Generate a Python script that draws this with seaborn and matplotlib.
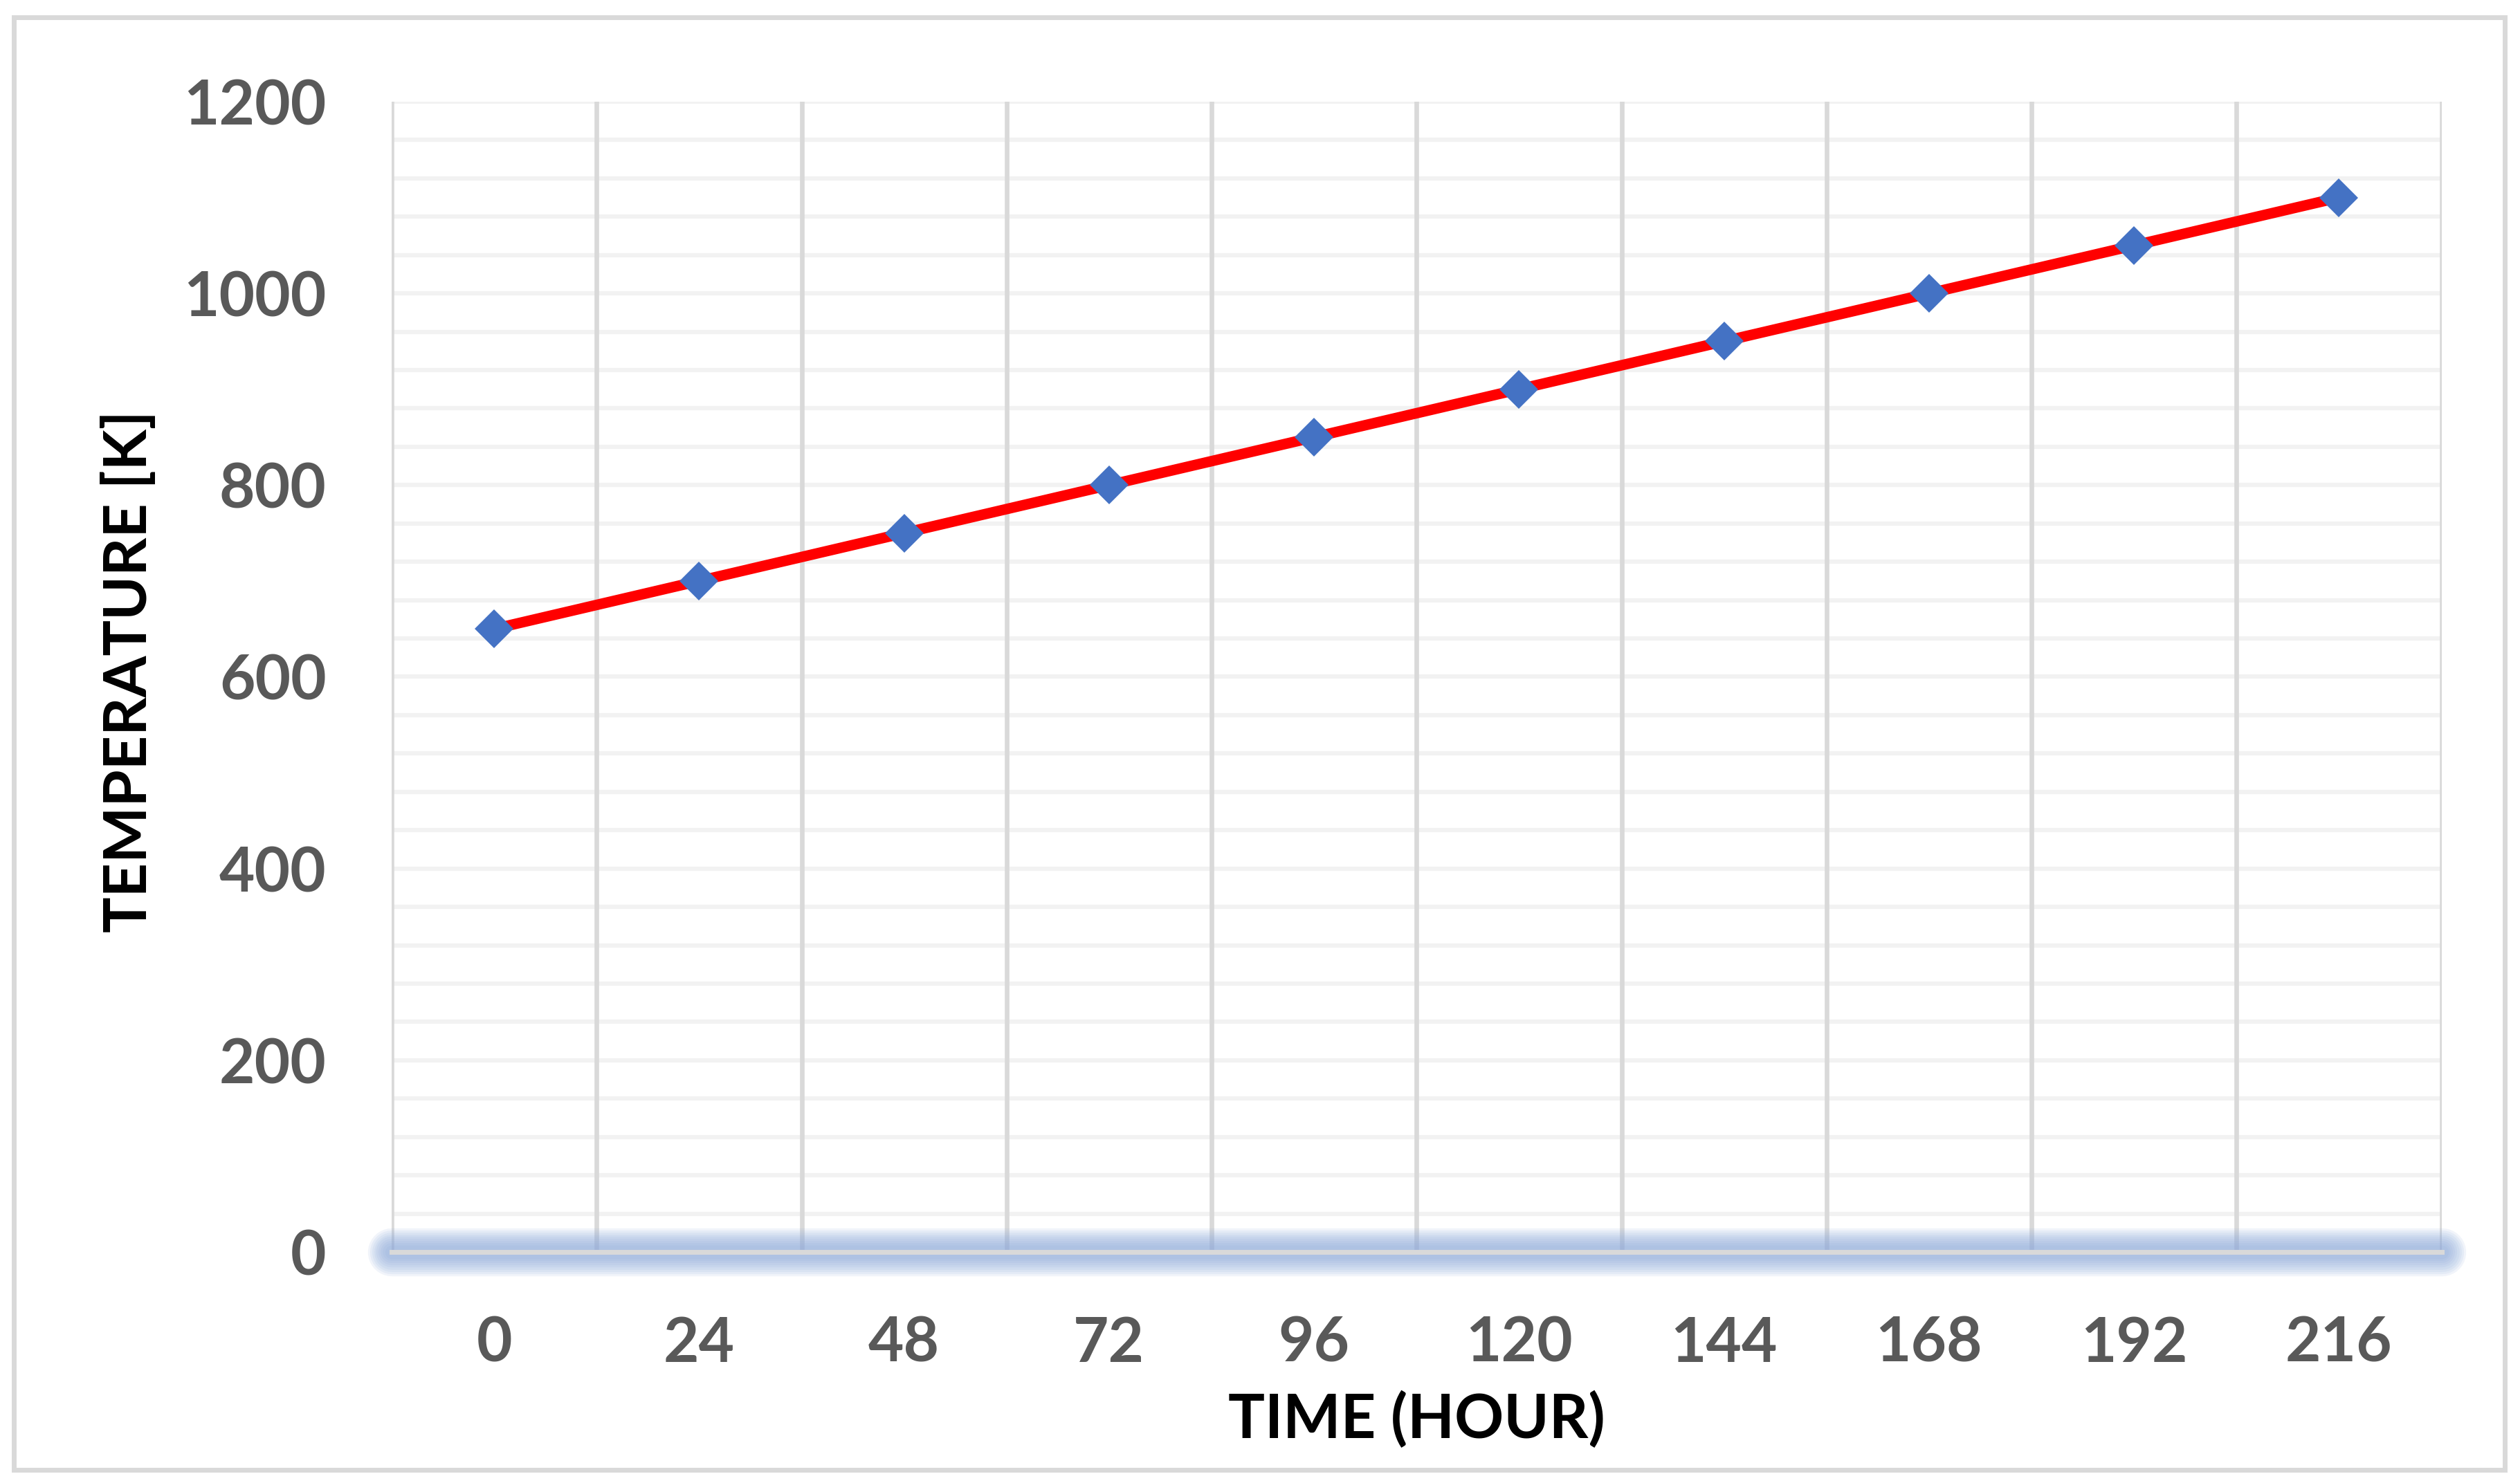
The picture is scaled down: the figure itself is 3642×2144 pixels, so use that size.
import numpy as np
import pandas as pd
import matplotlib
matplotlib.use("Agg")
import matplotlib.pyplot as plt
from matplotlib.ticker import MultipleLocator, FixedLocator
from matplotlib.patches import Rectangle
import seaborn as sns

# ---- data ----
hours = ["0", "24", "48", "72", "96", "120", "144", "168", "192", "216"]
temperature = [650, 700, 750, 800, 850, 900, 950, 1000, 1050, 1100]
y_ticks = [0, 200, 400, 600, 800, 1000, 1200]
x_title = "TIME (HOUR)"
y_title = "TEMPERATURE [K]"

sns.set_theme(style="white")
plt.rcParams["font.family"] = ["Lato", "DejaVu Sans"]

W, H = 3642, 2144
fig = plt.figure(figsize=(W / 100, H / 100), dpi=100)
left, right = 566 / W, 3528.5 / W
bottom, top = 1 - 1810 / H, 1 - 147 / H
ax = fig.add_axes([left, bottom, right - left, top - bottom])

df = pd.DataFrame({"hour": hours, "temp": temperature})
sns.lineplot(data=df, x="hour", y="temp", sort=False, ax=ax,
             color="#FF0000", linewidth=11, marker="D", markersize=29,
             markerfacecolor="#4472C4", markeredgecolor="#4472C4",
             markeredgewidth=0, zorder=4)

n = len(hours)
ax.set_xlim(-0.5, n - 0.5)
ax.set_ylim(y_ticks[0], y_ticks[-1])
ax.yaxis.set_major_locator(FixedLocator(y_ticks))
ax.yaxis.set_minor_locator(MultipleLocator(40))
ax.xaxis.set_minor_locator(FixedLocator(np.arange(n + 1) - 0.5))

ax.set_axisbelow(True)
ax.grid(False)
ax.grid(axis="y", which="both", color="#F2F2F2", linewidth=4.5)
ax.grid(axis="x", which="minor", color="#D9D9D9", linewidth=4.8)
ax.yaxis.set_zorder(0.5)
ax.xaxis.set_zorder(0.6)

for s in ["left", "right", "top"]:
    ax.spines[s].set_visible(False)
ax.spines["bottom"].set_color("#D9D9D9")
ax.spines["bottom"].set_linewidth(5)
ax.spines["bottom"].set_zorder(2.5)

# soft blue glow around the horizontal axis line
nlay = 9
for i in range(nlay):
    lw = 50 - i * 4.5
    ax.axhline(0, color="#8EAADB", alpha=0.12, linewidth=lw,
               solid_capstyle="round", clip_on=False, zorder=1.5)

ax.tick_params(axis="both", which="both", length=0)
ax.tick_params(axis="y", pad=68, labelsize=64, labelcolor="#595959")
ax.tick_params(axis="x", pad=66, labelsize=64, labelcolor="#595959")
for lab in ax.get_xticklabels() + ax.get_yticklabels():
    lab.set_fontweight("bold")

ax.set_xlabel(x_title, fontsize=63.5, fontweight="bold", color="black", va="center")
ax.set_ylabel(y_title, fontsize=62, fontweight="bold", color="black", va="center")
ax.xaxis.set_label_coords(0.5, -0.146)
ax.yaxis.set_label_coords(-0.128, 0.505)

fig.patches.append(Rectangle((19.5 / W, 19.5 / H), 3600 / W, 2100 / H,
                             transform=fig.transFigure, fill=False,
                             edgecolor="#D9D9D9", linewidth=5, zorder=0))

fig.savefig("out.png", dpi=100, facecolor="white")
